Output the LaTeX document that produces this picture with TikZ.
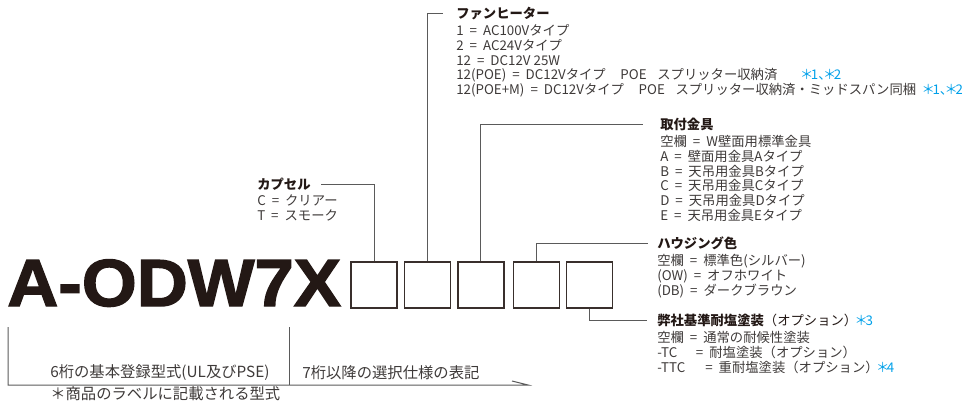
\documentclass[tikz,border=0pt]{standalone}
\usepackage{fontspec}
\setmainfont{Noto Sans CJK JP}
\newfontfamily\modelfont[FakeBold=2]{Liberation Sans Bold}
\usetikzlibrary{positioning}
\definecolor{inkblack}{RGB}{35,24,21}
\definecolor{textgray}{RGB}{62,58,57}
\definecolor{linegray}{RGB}{90,90,90}
\definecolor{noteblue}{RGB}{0,160,233}

\tikzset{
  codebox/.style={draw=inkblack!90,line width=0.8pt,minimum size=34.5pt,inner sep=0pt},
  keybox/.style={codebox,line width=1.7pt},
  title/.style={anchor=west,inner sep=0pt,text=inkblack,font=\fontsize{10pt}{11pt}\selectfont\bfseries},
  body/.style={inner sep=0pt,align=left,text=textgray,font=\fontsize{10pt}{11pt}\selectfont},
  foot/.style={inner sep=0pt,anchor=west,text=textgray,font=\fontsize{11.5pt}{12pt}\selectfont},
  link/.style={draw=linegray,line width=0.75pt}
}
\newcommand{\eqs}{\hspace{0.45em}=\hspace{0.45em}}
\newcommand{\notestar}{\makebox[0.62em]{＊}}
\newcommand{\note}[1]{{\color{noteblue}#1}}
\newcommand{\twonotes}{\note{\notestar1\makebox[0.55em][l]{、}\notestar2}}

\begin{document}
\begin{tikzpicture}[x=0.75pt,y=-0.75pt]
  \useasboundingbox (0,0) rectangle (962,403);

  % model number and the five code boxes
  \node[anchor=base west,inner sep=0pt,text=inkblack,
        font=\modelfont\fontsize{50pt}{50pt}\selectfont] (model) at (7,306)
        {\scalebox{1.06}[1]{A-ODW7X}};
  \node[codebox] (b1) at (374,285) {};
  \node[codebox,right=4.5pt of b1] (b2) {};
  \node[keybox,right=4.5pt of b2] (b3) {};
  \node[codebox,right=6pt of b3] (b4) {};
  \node[codebox,right=4.5pt of b4] (b5) {};

  % capsule
  \node[title] (capt) at (257,184) {カプセル};
  \node[body,below right=3pt and 0pt of capt.south west] (capb)
        {C\eqs クリアー\\T\eqs スモーク};

  % fan heater
  \node[title] (fant) at (456,14) {ファンヒーター};
  \node[body,below right=3pt and 0pt of fant.south west] (fanb)
        {1\eqs AC100Vタイプ\\
         2\eqs AC24Vタイプ\\
         12\eqs DC12V 25W\\
         12(POE)\eqs DC12Vタイプ\hspace{1.1em}POE\hspace{0.8em}スプリッター収納済\hspace{1.9em}\twonotes\\
         12(POE+M)\eqs DC12Vタイプ\hspace{1.1em}POE\hspace{0.8em}スプリッター収納済・ミッドスパン同梱\hspace{0.6em}\twonotes};

  % mounting bracket
  \node[title] (mountt) at (660,124) {取付金具};
  \node[body,below right=3.5pt and 0pt of mountt.south west] (mountb)
        {空欄\eqs W壁面用標準金具\\
         A\eqs 壁面用金具Aタイプ\\
         B\eqs 天吊用金具Bタイプ\\
         C\eqs 天吊用金具Cタイプ\\
         D\eqs 天吊用金具Dタイプ\\
         E\eqs 天吊用金具Eタイプ};

  % housing colour
  \node[title] (houset) at (657,243) {ハウジング色};
  \node[body,below right=3.5pt and 0pt of houset.south west] (houseb)
        {空欄\eqs 標準色(シルバー)\\
         (OW)\eqs オフホワイト\\
         (DB)\eqs ダークブラウン};

  % salt-resistant coating
  \node[title] (saltt) at (657,320) {弊社基準耐塩塗装\mdseries（オプション）\note{\notestar3}};
  \node[body,below right=3.5pt and 0pt of saltt.south west] (saltb)
        {空欄\eqs 通常の耐候性塗装\\
         -TC\hspace{1.4em}=\hspace{0.45em}耐塩塗装（オプション）\\
         -TTC\hspace{1.5em}=\hspace{0.45em}重耐塩塗装（オプション）\note{\notestar4}};

  \draw[link] (b1.north) |- ([xshift=7.5pt]capt.east);
  \draw[link] (b2.north) |- ([xshift=-9.75pt]fant.west);
  \draw[link] (b3.north) |- ([xshift=-12.75pt]mountt.west);
  \draw[link] (b4.north) |- ([xshift=-6.75pt]houset.west);
  \draw[link] (b5.south) |- ([xshift=-7.5pt]saltt.west);

  % bracket under the model number
  \coordinate (basetop) at (8,327);
  \coordinate (basecorner) at (8,385);
  \coordinate (divtop) at (289,327);
  \coordinate (divfoot) at (289,385);
  \coordinate (arrowend) at (528,385);
  \coordinate (barb) at (512,381);
  \draw[link] (basetop) -- (basecorner) -- (arrowend) -- (barb);
  \draw[link] (divtop) -- (divfoot);

  \node[foot] (basetext) at (50,373) {6桁の基本登録型式(UL及びPSE)};
  \node[foot] (labelnote) at (50,394) {＊商品のラベルに記載される型式};
  \node[foot] (opttext) at (302,373) {7桁以降の選択仕様の表記};
\end{tikzpicture}
\end{document}
